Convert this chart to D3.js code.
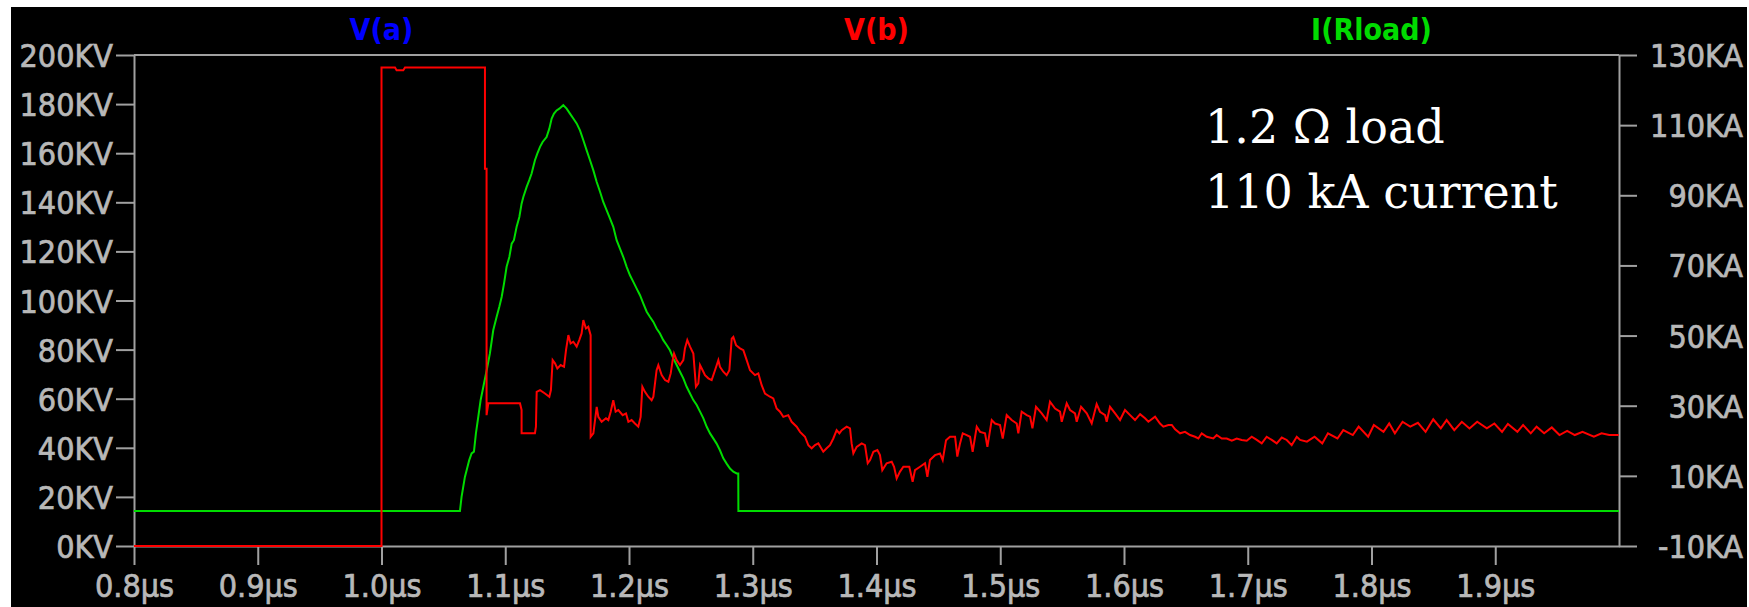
<!DOCTYPE html>
<html>
<head>
<meta charset="utf-8">
<script src="https://cdn.jsdelivr.net/npm/d3@7"></script>
<style>
body { margin: 0; background: #ffffff; }
.axis path, .axis line { stroke: #a0a0a0; stroke-width: 2; }
.axis text { fill: #b8b8b8; stroke: #b8b8b8; stroke-width: 0.7; font-family: "DejaVu Sans Condensed", "DejaVu Sans", sans-serif; font-size: 32px; }
.trace-label { font-family: "DejaVu Sans Condensed", "DejaVu Sans", sans-serif; font-size: 30px; font-weight: bold; text-anchor: middle; }
.note { fill: #ffffff; font-family: "DejaVu Serif", serif; font-size: 46px; }
</style>
</head>
<body>
<svg id="svg1" width="1749" height="607"></svg>
<script>
//chart values
const xTicks = [0.8, 0.9, 1.0, 1.1, 1.2, 1.3, 1.4, 1.5, 1.6, 1.7, 1.8, 1.9];
const vTicks = [0, 20, 40, 60, 80, 100, 120, 140, 160, 180, 200];
const iTicks = [-10, 10, 30, 50, 70, 90, 110, 130];
const traceNames = ["V(a)", "V(b)", "I(Rload)"];
const noteLines = ["1.2 \u03A9 load", "110 kA current"];

// I(Rload), time in us, current in kA
const iTime = [0.8, 1.0634, 1.0647, 1.0674, 1.0688, 1.0709, 1.0728, 1.0747, 1.0763, 1.0782, 1.0801,
    1.0823, 1.0850, 1.0876, 1.0903, 1.0930, 1.0952, 1.0971, 1.0990, 1.1011, 1.1033, 1.1052, 1.1070,
    1.1092, 1.1114, 1.1132, 1.1146, 1.1173, 1.1194, 1.1213, 1.1240, 1.1259, 1.1281, 1.1302, 1.1334,
    1.1356, 1.1375, 1.1394, 1.1415, 1.1437, 1.1469, 1.1496, 1.1523, 1.1550, 1.1577, 1.1604, 1.1631,
    1.1658, 1.1685, 1.1712, 1.1739, 1.1766, 1.1792, 1.1819, 1.1846, 1.1873, 1.1900, 1.1927, 1.1954,
    1.1981, 1.2008, 1.2035, 1.2062, 1.2089, 1.2116, 1.2143, 1.2170, 1.2197, 1.2223, 1.2250, 1.2277,
    1.2304, 1.2331, 1.2358, 1.2385, 1.2412, 1.2439, 1.2466, 1.2493, 1.2520, 1.2547, 1.2574, 1.2601,
    1.2628, 1.2655, 1.2681, 1.2708, 1.2735, 1.2762, 1.2789, 1.2816, 1.2843, 1.2870, 1.2883, 1.2884, 2.0];
const iValue = [0, 0, 4.0, 9.7, 11.6, 14.5, 16.4, 16.9, 22.1, 26.8, 31.6,
    35.4, 40.1, 44.9, 51.5, 55.3, 58.2, 61.0, 64.8, 69.6, 72.4, 76.2, 77.2,
    81.0, 83.8, 87.6, 89.5, 92.4, 94.3, 96.2, 100.0, 101.9, 103.8, 105.2, 106.6,
    109.0, 111.9, 113.3, 114.2, 114.7, 115.7, 114.7, 113.3, 111.9, 110.5, 108.5, 105.7,
    102.8, 100.0, 97.1, 93.8, 91.0, 88.1, 85.8, 83.4, 81.0, 77.2, 74.8, 72.4,
    69.6, 67.2, 65.3, 63.4, 61.5, 59.1, 56.8, 55.3, 53.9, 52.0, 50.6, 48.7,
    47.3, 45.8, 43.5, 41.6, 39.7, 37.8, 35.4, 33.5, 31.6, 30.2, 28.3, 26.4,
    24.0, 22.1, 20.7, 19.2, 17.3, 15.0, 13.5, 12.1, 11.2, 10.7, 10.7, 0, 0];

// V(b), time in us, voltage in kV
const vTime = [0.8, 1.0, 1.0, 1.0109, 1.0122, 1.0176, 1.0190, 1.0836, 1.0836, 1.0849, 1.0849, 1.0863,
    1.1119, 1.1132, 1.1132, 1.1240, 1.1248, 1.1254, 1.1281, 1.1321, 1.1356, 1.1369, 1.1383, 1.1402,
    1.1421, 1.1448, 1.1475, 1.1491, 1.1510, 1.1528, 1.1550, 1.1577, 1.1598, 1.1617, 1.1631, 1.1652,
    1.1671, 1.1690, 1.1690, 1.1712, 1.1739, 1.1752, 1.1779, 1.1814, 1.1833, 1.1852, 1.1873, 1.1892,
    1.1914, 1.1949, 1.1976, 1.1995, 1.2021, 1.2048, 1.2075, 1.2094, 1.2108, 1.2129, 1.2156, 1.2183,
    1.2197, 1.2223, 1.2237, 1.2264, 1.2291, 1.2318, 1.2337, 1.2353, 1.2364, 1.2385, 1.2412, 1.2439,
    1.2452, 1.2471, 1.2493, 1.2520, 1.2541, 1.2560, 1.2574, 1.2595, 1.2614, 1.2641, 1.2668, 1.2695,
    1.2722, 1.2735, 1.2762, 1.2789, 1.2811, 1.2830, 1.2843, 1.2865, 1.2897, 1.2924, 1.2951, 1.2978,
    1.3018, 1.3045, 1.3072, 1.3099, 1.3139, 1.3166, 1.3193, 1.3220, 1.3247, 1.3287, 1.3314, 1.3355,
    1.3382, 1.3422, 1.3449, 1.3476, 1.3503, 1.3530, 1.3570, 1.3597, 1.3624, 1.3651, 1.3678, 1.3700,
    1.3719, 1.3759, 1.3786, 1.3799, 1.3813, 1.3840, 1.3880, 1.3907, 1.3929, 1.3948, 1.3975, 1.4007,
    1.4028, 1.4047, 1.4082, 1.4123, 1.4142, 1.4163, 1.4190, 1.4217, 1.4265, 1.4292, 1.4311, 1.4352,
    1.4392, 1.4411, 1.4432, 1.4473, 1.4513, 1.4535, 1.4562, 1.4594, 1.4635, 1.4653, 1.4675, 1.4697,
    1.4729, 1.4756, 1.4777, 1.4810, 1.4837, 1.4877, 1.4896, 1.4931, 1.4958, 1.4998, 1.5020, 1.5052,
    1.5092, 1.5133, 1.5146, 1.5173, 1.5214, 1.5241, 1.5260, 1.5289, 1.5335, 1.5375, 1.5402, 1.5443,
    1.5483, 1.5497, 1.5537, 1.5564, 1.5604, 1.5618, 1.5653, 1.5699, 1.5739, 1.5779, 1.5806, 1.5847,
    1.5860, 1.5887, 1.5928, 1.5968, 1.6008, 1.6049, 1.6089, 1.6130, 1.6170, 1.6197, 1.6251, 1.6291,
    1.6318, 1.6359, 1.6386, 1.6413, 1.6453, 1.6493, 1.6534, 1.6574, 1.6601, 1.6628, 1.6669, 1.6722,
    1.6749, 1.6790, 1.6830, 1.6871, 1.6911, 1.6951, 1.6992, 1.7032, 1.7073, 1.7113, 1.7153, 1.7194,
    1.7234, 1.7275, 1.7315, 1.7355, 1.7396, 1.7423, 1.7478, 1.7540, 1.7602, 1.7648, 1.7725, 1.7772,
    1.7849, 1.7896, 1.7973, 1.8019, 1.8097, 1.8143, 1.8189, 1.8251, 1.8313, 1.8375, 1.8437, 1.8499,
    1.8560, 1.8607, 1.8669, 1.8730, 1.8792, 1.8854, 1.8932, 1.8993, 1.9055, 1.9102, 1.9179, 1.9225,
    1.9287, 1.9334, 1.9395, 1.9457, 1.9519, 1.9581, 1.9643, 1.9705, 1.9797, 1.9859, 1.9921, 1.9998];
const vValue = [0, 0, 194.9, 194.9, 193.8, 193.8, 194.9, 194.9, 153.7, 153.7, 53.3, 58.1,
    58.1, 55.4, 45.9, 45.9, 48.6, 62.8, 63.5, 62.1, 60.8, 63.5, 75.7, 74.4,
    72.3, 73.7, 73.0, 79.8, 85.9, 82.5, 83.2, 81.2, 83.9, 86.6, 92.0, 88.6,
    89.3, 85.9, 44.5, 45.9, 56.7, 52.6, 50.6, 52.0, 51.3, 54.7, 59.4, 54.7,
    55.4, 53.3, 54.0, 50.6, 51.3, 49.9, 48.6, 52.6, 64.9, 62.8, 60.8, 59.4,
    60.8, 71.6, 73.7, 69.6, 67.6, 66.9, 70.3, 75.7, 78.4, 75.7, 73.7, 75.7,
    80.5, 83.9, 81.2, 78.4, 64.9, 66.2, 73.7, 71.6, 69.6, 68.3, 67.6, 71.6,
    75.7, 73.0, 71.0, 69.6, 71.6, 84.5, 85.2, 81.8, 80.5, 79.8, 75.7, 71.6,
    69.6, 70.3, 65.5, 62.1, 60.8, 60.1, 56.0, 54.7, 52.6, 53.3, 50.6, 48.6,
    46.5, 44.5, 41.1, 39.8, 41.1, 41.8, 38.4, 39.8, 41.1, 43.8, 47.2, 45.9,
    47.2, 48.6, 47.9, 41.8, 37.7, 40.4, 41.8, 41.1, 33.7, 35.0, 38.4, 39.1,
    37.0, 30.9, 33.7, 34.3, 32.3, 27.5, 30.3, 32.3, 32.3, 26.2, 30.9, 32.3,
    33.7, 28.2, 35.0, 37.0, 37.7, 35.0, 43.1, 44.5, 44.5, 36.4, 41.8, 45.9,
    45.2, 44.5, 38.4, 48.6, 46.5, 45.9, 40.4, 51.3, 49.9, 49.3, 43.8, 53.3,
    51.3, 49.9, 45.9, 54.7, 53.3, 52.7, 47.9, 56.7, 54.0, 51.3, 58.8, 56.0,
    54.7, 50.6, 58.1, 55.4, 54.0, 50.6, 56.7, 54.0, 49.9, 57.8, 54.7, 53.3,
    50.6, 56.7, 54.0, 51.3, 55.4, 53.3, 51.3, 53.7, 52.0, 50.6, 52.7, 49.9,
    48.6, 49.3, 49.3, 47.5, 45.9, 46.5, 45.2, 44.5, 43.8, 45.9, 44.5, 43.8,
    45.2, 43.8, 43.8, 42.9, 43.8, 43.2, 42.9, 44.5, 43.2, 41.8, 44.5, 43.2,
    41.8, 44.2, 43.2, 41.1, 44.5, 43.2, 42.5, 44.5, 41.8, 45.9, 43.8, 47.2,
    45.2, 48.6, 44.5, 49.3, 46.5, 49.9, 45.9, 50.6, 48.6, 50.2, 46.5, 51.6,
    47.9, 51.3, 47.2, 50.6, 47.9, 50.6, 47.9, 49.9, 46.5, 49.7, 46.5, 49.3,
    45.9, 48.6, 45.9, 48.3, 45.2, 46.9, 45.2, 46.5, 44.5, 45.9, 45.2, 45.2];

//layout
const plotLeft = 134;
const plotRight = 1619;
const plotTop = 55;
const plotBottom = 546;
const gridColor = "#a0a0a0";

const svg = d3.select("#svg1");

svg.append("rect")
    .attr("x", 11)
    .attr("y", 7)
    .attr("width", 1736)
    .attr("height", 600)
    .attr("fill", "#000000");

const xScale = d3.scaleLinear().domain([0.8, 2.0]).range([plotLeft, plotRight]);
const yScaleV = d3.scaleLinear().domain([0, 200]).range([plotBottom, plotTop]);
const yScaleI = d3.scaleLinear().domain([-10, 130]).range([plotBottom, plotTop]);

// top border
svg.append("line")
    .attr("x1", xScale(0.8))
    .attr("x2", xScale(2.0))
    .attr("y1", yScaleV(200))
    .attr("y2", yScaleV(200))
    .attr("stroke", gridColor)
    .attr("stroke-width", 2);

const bottomAxis = d3.axisBottom(xScale)
    .tickValues(xTicks)
    .tickSize(19)
    .tickSizeOuter(0)
    .tickPadding(9)
    .tickFormat(d => d3.format(".1f")(d) + "\u00B5s");

const leftAxis = d3.axisLeft(yScaleV)
    .tickValues(vTicks)
    .tickSize(18)
    .tickSizeOuter(0)
    .tickPadding(3)
    .tickFormat(d => d + "KV");

const rightAxis = d3.axisRight(yScaleI)
    .tickValues(iTicks)
    .tickSize(18)
    .tickSizeOuter(0)
    .tickFormat(d => d + "KA");

svg.append("g")
    .attr("class", "axis")
    .attr("transform", "translate(0," + plotBottom + ")")
    .call(bottomAxis)
    .call(g => g.select(".domain").attr("stroke", gridColor));

svg.append("g")
    .attr("class", "axis")
    .attr("transform", "translate(" + plotLeft + ",0)")
    .call(leftAxis)
    .call(g => g.selectAll("text").attr("dy", "0.36em"));

svg.append("g")
    .attr("class", "axis")
    .attr("transform", "translate(" + plotRight + ",0)")
    .call(rightAxis)
    .call(g => g.selectAll("text")
        .attr("x", 124)
        .attr("dy", "0.36em")
        .attr("text-anchor", "end"));

svg.selectAll(".axis").attr("font-family", null).attr("font-size", null);

// trace names along the top
const traceColors = ["#0000ff", "#ff0000", "#00dc00"];
const third = (plotRight - plotLeft) / 3;
svg.selectAll(".trace-label")
    .data(traceNames)
    .enter()
    .append("text")
    .attr("class", "trace-label")
    .attr("x", (d, i) => plotLeft + third * (i + 0.5))
    .attr("y", 40)
    .attr("fill", (d, i) => traceColors[i])
    .text(d => d);

const iData = iTime.map((t, i) => [t, iValue[i]]);
const vData = vTime.map((t, i) => [t, vValue[i]]);

const iLine = d3.line().x(d => xScale(d[0])).y(d => yScaleI(d[1]));
const vLine = d3.line().x(d => xScale(d[0])).y(d => yScaleV(d[1]));

svg.append("path")
    .datum(iData)
    .attr("d", iLine)
    .attr("fill", "none")
    .attr("stroke", "#00dc00")
    .attr("stroke-width", 2);

svg.append("path")
    .datum(vData)
    .attr("d", vLine)
    .attr("fill", "none")
    .attr("stroke", "#ff0000")
    .attr("stroke-width", 2);

// annotation
svg.selectAll(".note")
    .data(noteLines)
    .enter()
    .append("text")
    .attr("class", "note")
    .attr("x", 1205)
    .attr("y", (d, i) => 143 + i * 65)
    .text(d => d);
</script>
</body>
</html>
